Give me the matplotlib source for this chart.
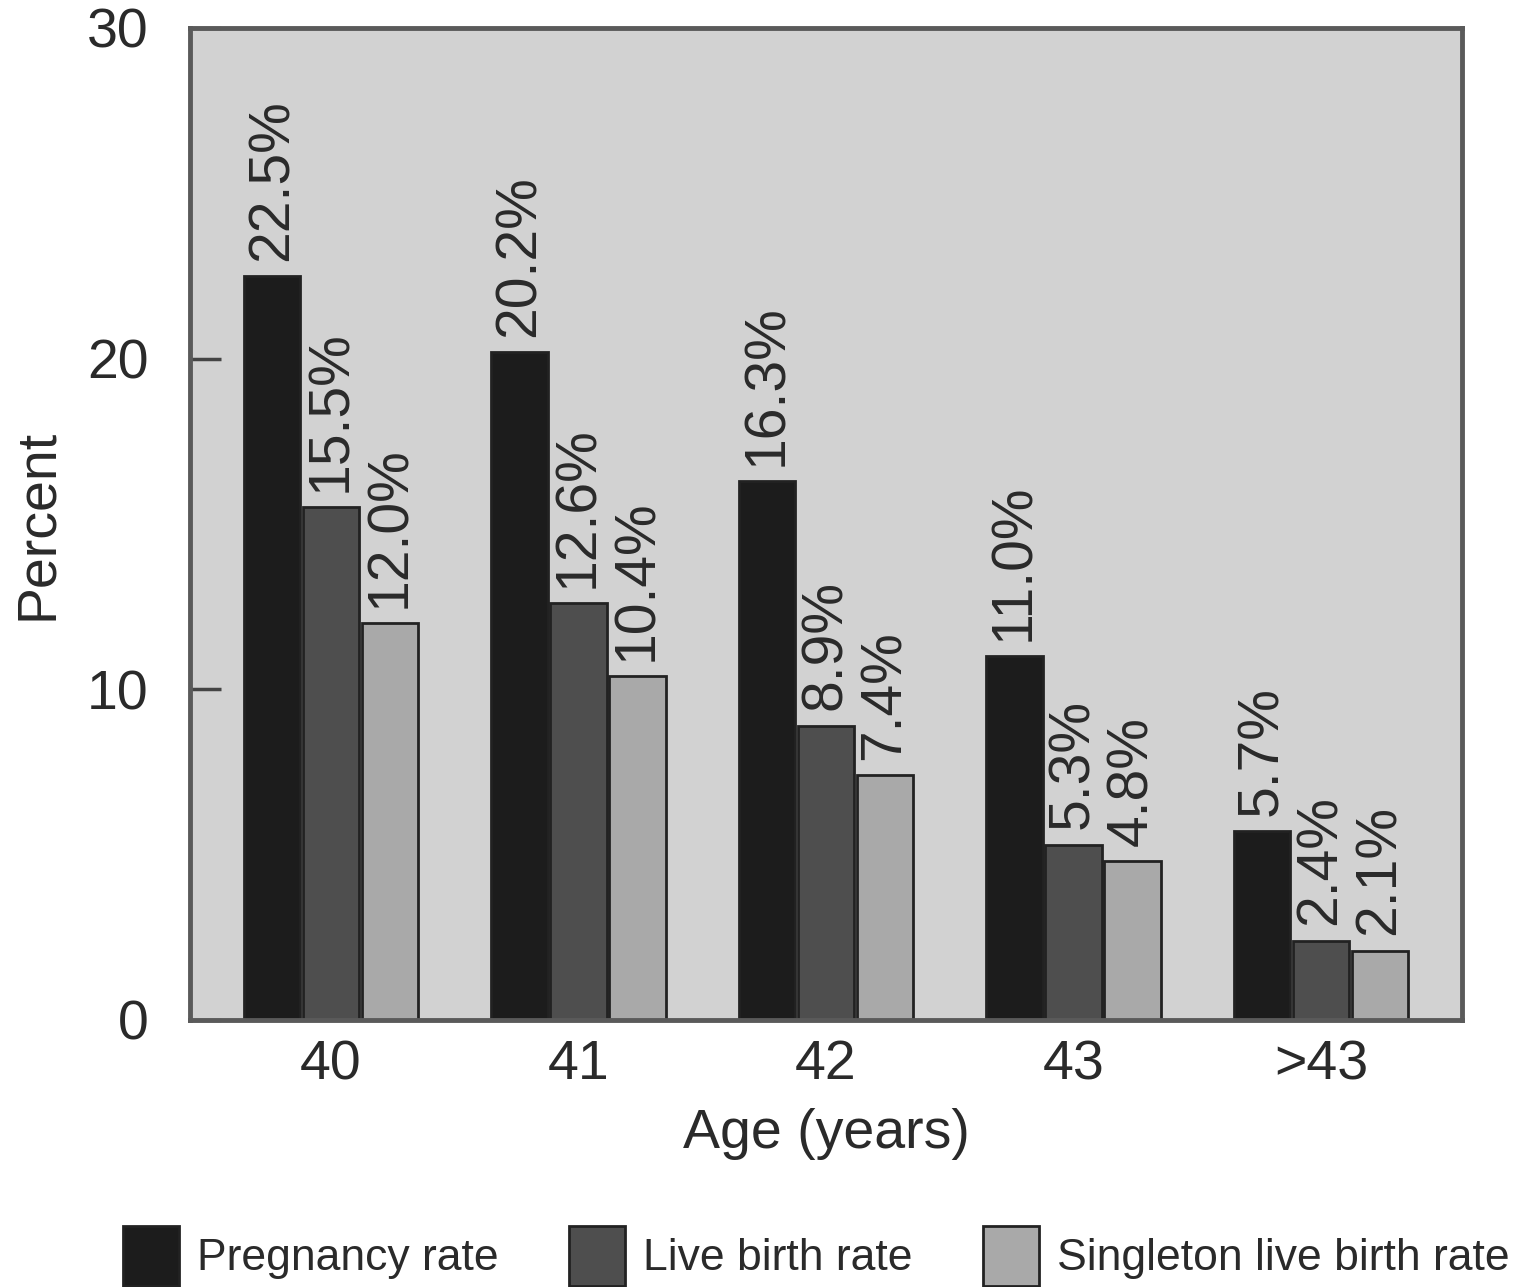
import matplotlib
matplotlib.use('Agg')
import matplotlib.pyplot as plt
import numpy as np

# Values
ages = ['40', '41', '42', '43', '>43']
pregnancy_rate = [22.5, 20.2, 16.3, 11.0, 5.7]
live_birth_rate = [15.5, 12.6, 8.9, 5.3, 2.4]
singleton_rate = [12.0, 10.4, 7.4, 4.8, 2.1]
series_names = ['Pregnancy rate', 'Live birth rate', 'Singleton live birth rate']

plt.rcParams['font.family'] = ['Liberation Sans', 'DejaVu Sans']
text_col = '#2a2a2a'

fig = plt.figure(figsize=(15.26, 12.87), dpi=100)
ax = fig.add_axes([0.1245, 0.2075, 0.8336, 0.7708])
ax.set_facecolor('#d2d2d2')

x = np.arange(len(ages))
w = 0.238
colors = ['#1c1c1c', '#4e4e4e', '#a9a9a9']
series = [pregnancy_rate, live_birth_rate, singleton_rate]

for i, (vals, col, name) in enumerate(zip(series, colors, series_names)):
    bars = ax.bar(x + (i - 1) * w, vals, w * 0.96, color=col, edgecolor='#222222',
                  linewidth=2, label=name)
    for b, v in zip(bars, vals):
        ax.annotate(f'{v:.1f}%', (b.get_x() + b.get_width() / 2, v),
                    xytext=(0, 11), textcoords='offset points', rotation=90,
                    ha='center', va='bottom', fontsize=41, color=text_col)

ax.set_xlim(-0.57, 4.57)
ax.set_ylim(0, 30)
ax.set_xticks(x)
ax.set_xticklabels(ages)
ax.set_yticks([0, 10, 20, 30])
ax.tick_params(axis='x', length=0, pad=14, labelsize=40, labelcolor=text_col)
ax.tick_params(axis='y', direction='in', length=22, width=2.5, color='#444444',
               pad=30, labelsize=40, labelcolor=text_col)

for s in ax.spines.values():
    s.set_color('#5a5a5a')
    s.set_linewidth(3.5)

ax.set_xlabel('Age (years)', fontsize=40, color=text_col, labelpad=12)
ax.set_ylabel('Percent', fontsize=40, color=text_col, labelpad=16)

fig.legend(loc='lower center', bbox_to_anchor=(0.535, -0.03), ncol=3, frameon=False,
           fontsize=32, handlelength=1.25, handleheight=1.7, handletextpad=0.4,
           columnspacing=1.6, labelcolor=text_col)

fig.savefig('out.png', dpi=100)
